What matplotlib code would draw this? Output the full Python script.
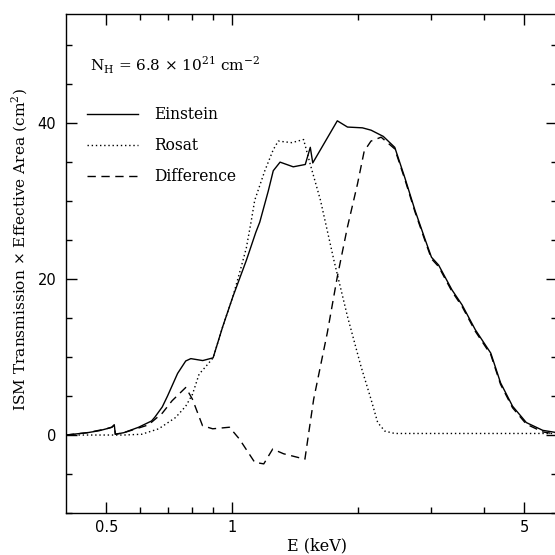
import matplotlib
matplotlib.use("Agg")
import matplotlib.pyplot as plt
from matplotlib.ticker import FixedLocator, NullFormatter, FixedFormatter

# ---- data ----
einstein_E = [0.40, 0.45, 0.48, 0.50, 0.515, 0.522, 0.525, 0.55, 0.597, 0.641, 0.653, 0.68, 0.70, 0.74,
              0.774, 0.796, 0.85, 0.90, 0.949, 1.003, 1.081, 1.139, 1.164, 1.22, 1.254, 1.302,
              1.40, 1.496, 1.538, 1.559, 1.785, 1.888, 2.05, 2.15, 2.30, 2.45, 2.59, 2.74,
              2.90, 3.00, 3.12, 3.36, 3.55, 3.82, 4.16, 4.39, 4.69, 5.06, 5.54, 6.0]
einstein_A = [0.0, 0.3, 0.55, 0.8, 1.0, 1.3, 0.1, 0.3, 1.0, 1.8, 2.3, 3.6, 5.0, 7.9,
              9.5, 9.8, 9.55, 9.9, 13.9, 17.7, 22.4, 26.0, 27.3, 31.3, 33.9, 35.0,
              34.4, 34.7, 36.9, 34.9, 40.3, 39.5, 39.4, 39.1, 38.3, 36.9, 33.0, 28.8,
              25.0, 22.8, 21.8, 18.6, 16.7, 13.5, 10.5, 6.7, 3.7, 1.6, 0.6, 0.3]

rosat_E = [0.40, 0.55, 0.607, 0.667, 0.732, 0.774, 0.803, 0.833, 0.865, 0.90, 0.949, 1.003,
           1.05, 1.081, 1.111, 1.132, 1.197, 1.254, 1.289, 1.389, 1.482, 1.538, 1.627, 1.752,
           1.888, 2.034, 2.149, 2.23, 2.32, 2.45, 6.0]
rosat_A = [0.0, 0.0, 0.1, 0.8, 2.25, 3.7, 5.2, 7.8, 8.8, 9.9, 13.9, 17.7,
           21.5, 24.0, 27.5, 30.1, 33.9, 36.6, 37.7, 37.5, 37.9, 34.7, 30.1, 22.4,
           15.2, 8.8, 4.6, 1.6, 0.5, 0.2, 0.2]

diff_E = [0.40, 0.45, 0.50, 0.515, 0.522, 0.525, 0.55, 0.597, 0.63, 0.68, 0.718, 0.774,
          0.803, 0.849, 0.898, 0.985, 1.04, 1.132, 1.19, 1.25, 1.327, 1.493, 1.525, 1.567,
          1.689, 1.785, 1.888, 1.995, 2.07, 2.149, 2.273, 2.45, 2.59, 2.74, 2.90, 3.00,
          3.12, 3.36, 3.55, 3.82, 4.16, 4.39, 4.69, 5.06, 5.54, 6.0]
diff_A = [0.0, 0.3, 0.8, 1.0, 1.3, 0.1, 0.3, 0.9, 1.3, 2.8, 4.4, 6.1,
          4.6, 1.2, 0.8, 1.0, -0.5, -3.5, -3.7, -1.8, -2.4, -3.1, 0.3, 4.6,
          13.1, 20.3, 26.7, 32.2, 36.4, 37.7, 38.2, 36.7, 32.8, 28.6, 24.8, 22.6,
          21.6, 18.4, 16.5, 13.3, 10.3, 6.5, 3.5, 1.4, 0.4, 0.1]

series_labels = ["Einstein", "Rosat", "Difference"]
x_major = [0.5, 1, 5]
x_major_labels = ["0.5", "1", "5"]
x_minor = [0.6, 0.7, 0.8, 0.9, 2, 3, 4]
y_major = [0, 20, 40]
y_minor = [-10, -5, 5, 10, 15, 25, 30, 35, 45, 50]

serif = "DejaVu Serif"
sans = "DejaVu Sans"

fig = plt.figure(figsize=(5.55, 5.55), dpi=100)
ax = fig.add_axes([66/555, 1 - 513/555, (555 - 66)/555 + 0.004, (513 - 14)/555])

ax.plot(einstein_E, einstein_A, color="black", lw=1.0, ls="-", label=series_labels[0])
ax.plot(rosat_E, rosat_A, color="black", lw=1.0, ls=(0, (1, 2)), label=series_labels[1])
ax.plot(diff_E, diff_A, color="black", lw=1.0, ls=(0, (6, 4)), label=series_labels[2])

ax.set_xscale("log")
ax.set_xlim(0.4, 6.0)
ax.set_ylim(-10, 54)

ax.xaxis.set_major_locator(FixedLocator(x_major))
ax.xaxis.set_major_formatter(FixedFormatter(x_major_labels))
ax.xaxis.set_minor_locator(FixedLocator(x_minor))
ax.xaxis.set_minor_formatter(NullFormatter())
ax.yaxis.set_major_locator(FixedLocator(y_major))
ax.yaxis.set_minor_locator(FixedLocator(y_minor))

ax.tick_params(which="both", direction="in", top=True, right=True, width=1.0)
ax.tick_params(which="major", length=8, labelsize=10.5)
ax.tick_params(axis="x", which="major", pad=5)
ax.tick_params(axis="y", which="major", pad=7)
ax.tick_params(which="minor", length=4)
for lab in ax.get_xticklabels() + ax.get_yticklabels():
    lab.set_family(sans)
for s in ax.spines.values():
    s.set_linewidth(1.0)

ax.set_xlabel("E (keV)", family=serif, fontsize=11.5)
ax.xaxis.label.set_va("center")
ax.xaxis.set_label_coords(0.511, -0.066)
ax.set_ylabel("ISM Transmission \u00d7 Effective Area (cm$^\\mathregular{2}$)", family=serif,
              fontsize=11.1)
ax.yaxis.label.set_va("center")
ax.yaxis.set_label_coords(-0.094, 0.527)

ax.text(0.049, 0.898, "N$_\\mathregular{H}$ = 6.8 \u00d7 10$^\\mathregular{21}$ cm$^\\mathregular{-2}$",
        transform=ax.transAxes, family=serif, fontsize=11, va="center", ha="left")

leg = ax.legend(loc="upper left", bbox_to_anchor=(0.03, 0.828), frameon=False,
                prop={"family": serif, "size": 11.2}, handlelength=3.3,
                handletextpad=1.0, labelspacing=0.9, borderaxespad=0)

fig.savefig("out.png", dpi=100)
